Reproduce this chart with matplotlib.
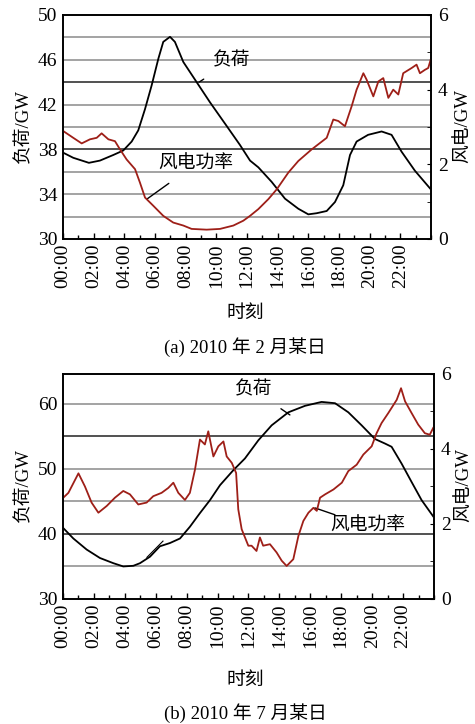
import matplotlib
matplotlib.use("Agg")
import matplotlib.pyplot as plt
from matplotlib.ticker import MultipleLocator

plt.rcParams['font.family'] = ['Liberation Serif', 'Noto Sans CJK SC']
plt.rcParams['axes.unicode_minus'] = False

# ---- 2010年2月某日 ----
feb_load_h = [0.02, 0.67, 1.69, 2.41, 3.28, 3.93, 4.48, 4.91, 5.35, 5.78, 6.22, 6.54, 6.98, 7.3,
              7.85, 8.72, 9.59, 10.67, 11.54, 12.2, 12.74, 13.61, 14.48, 15.35, 16.0, 16.54,
              17.2, 17.74, 18.28, 18.72, 19.15, 19.9, 20.78, 21.43, 22.08, 22.95, 23.95]
feb_load = [37.7, 37.25, 36.8, 37.0, 37.5, 37.9, 38.7, 39.7, 41.6, 43.7, 46.1, 47.6, 48.05, 47.6,
            45.8, 44.0, 42.2, 40.1, 38.4, 37.0, 36.4, 35.1, 33.6, 32.7, 32.2, 32.3,
            32.5, 33.3, 34.8, 37.5, 38.7, 39.3, 39.6, 39.3, 37.8, 36.1, 34.5]

feb_wind_h = [0.02, 0.67, 1.22, 1.76, 2.2, 2.52, 2.96, 3.39, 3.72, 4.15, 4.7, 5.02, 5.35, 5.89,
              6.54, 7.19, 7.85, 8.39, 9.37, 10.24, 11.11, 11.76, 12.2, 12.74, 13.4, 13.94,
              14.7, 15.35, 16.22, 17.2, 17.63, 17.96, 18.39, 18.83, 19.15, 19.59, 19.8, 20.24,
              20.57, 20.89, 21.22, 21.54, 21.87, 22.19, 22.74, 23.06, 23.28, 23.6, 23.82, 23.98]
feb_wind = [2.89, 2.71, 2.56, 2.67, 2.71, 2.83, 2.67, 2.62, 2.4, 2.13, 1.87, 1.51, 1.11, 0.89,
            0.62, 0.44, 0.36, 0.27, 0.25, 0.27, 0.36, 0.49, 0.62, 0.8, 1.07, 1.33,
            1.78, 2.09, 2.4, 2.71, 3.2, 3.16, 3.02, 3.56, 4.0, 4.44, 4.27, 3.82,
            4.22, 4.31, 3.78, 4.0, 3.87, 4.44, 4.58, 4.67, 4.44, 4.53, 4.58, 4.8]

# ---- 2010年7月某日 ----
jul_load_h = [0.02, 0.67, 1.53, 2.39, 3.26, 3.9, 4.55, 4.98, 5.63, 6.27, 6.92, 7.57, 8.21, 8.86,
              9.51, 10.16, 11.02, 11.77, 12.64, 13.5, 14.58, 15.66, 16.73, 17.6, 18.46, 19.32,
              20.18, 20.83, 21.26, 21.91, 22.55, 23.2, 23.95]
jul_load = [40.9, 39.3, 37.6, 36.3, 35.5, 35.0, 35.1, 35.5, 36.5, 38.1, 38.6, 39.3, 41.1, 43.2,
            45.2, 47.5, 49.8, 51.6, 54.4, 56.7, 58.7, 59.7, 60.3, 60.1, 58.7, 56.7,
            54.6, 53.9, 53.4, 50.8, 48.0, 45.2, 42.7]

jul_wind_h = [0.02, 0.35, 1.0, 1.42, 1.85, 2.29, 2.83, 3.36, 3.9, 4.33, 4.87, 5.41, 5.84, 6.38,
              6.81, 7.14, 7.46, 7.89, 8.21, 8.54, 8.86, 9.18, 9.4, 9.73, 10.05, 10.38, 10.59,
              10.92, 11.2, 11.34, 11.56, 11.99, 12.2, 12.52, 12.74, 12.95, 13.39, 13.82, 14.15,
              14.47, 14.9, 15.23, 15.55, 15.88, 16.2, 16.42, 16.63, 16.96, 17.5, 18.04, 18.46,
              19.0, 19.43, 19.97, 20.29, 20.61, 21.05, 21.59, 21.87, 22.13, 22.55, 22.98, 23.41,
              23.73, 23.95]
jul_wind = [2.7, 2.83, 3.35, 3.0, 2.57, 2.3, 2.48, 2.7, 2.88, 2.79, 2.52, 2.57, 2.74, 2.83,
            2.96, 3.1, 2.83, 2.64, 2.83, 3.45, 4.25, 4.12, 4.47, 3.8, 4.07, 4.2, 3.8,
            3.63, 3.36, 2.39, 1.86, 1.42, 1.42, 1.28, 1.64, 1.42, 1.46, 1.24, 1.02,
            0.88, 1.06, 1.68, 2.08, 2.3, 2.43, 2.35, 2.7, 2.79, 2.92, 3.1, 3.41,
            3.58, 3.85, 4.07, 4.42, 4.69, 4.96, 5.31, 5.62, 5.27, 4.96, 4.65, 4.42,
            4.38, 4.56]

hour_ticks = list(range(0, 24, 2))
hour_labels = ['%02d:00' % h for h in hour_ticks]

RED = '#9e1f18'
TICK_FS = 14
CN_FS = 13.5


def draw_panel(ax, load_h, load, wind_h, wind, ylim, yticks, grid_levels, grid_colors):
    for lv, c in zip(grid_levels, grid_colors):
        ax.axhline(lv, color=c, lw=1.1, zorder=1)
    ax.plot(load_h, load, color='black', lw=1.3, zorder=3)
    ax.set_xlim(0, 24)
    ax.set_ylim(*ylim)
    ax.set_yticks(yticks)
    ax.set_xticks(hour_ticks)
    ax.set_xticklabels(hour_labels, rotation=90, fontsize=TICK_FS)
    ax.xaxis.set_minor_locator(MultipleLocator(1))
    ax.tick_params(axis='x', which='major', direction='in', length=4, width=1, pad=3)
    ax.tick_params(axis='x', which='minor', direction='in', length=3, width=1)
    ax.tick_params(axis='y', length=0, labelsize=TICK_FS, pad=4)
    for s in ax.spines.values():
        s.set_linewidth(1.2)

    ax2 = ax.twinx()
    ax2.plot(wind_h, wind, color=RED, lw=1.3, zorder=2)
    ax2.set_ylim(0, 6)
    ax2.set_yticks([0, 2, 4, 6])
    ax2.yaxis.set_minor_locator(MultipleLocator(1))
    ax2.tick_params(axis='y', which='major', direction='in', length=3, labelsize=TICK_FS, pad=5)
    ax2.tick_params(axis='y', which='minor', direction='in', length=3)
    for s in ax2.spines.values():
        s.set_linewidth(1.2)
    return ax2


fig = plt.figure(figsize=(4.75, 7.24), dpi=100)

# 上图
ax_a = fig.add_axes([0.1326, 0.6699, 0.7747, 0.3094])
draw_panel(ax_a, feb_load_h, feb_load, feb_wind_h, feb_wind, (30, 50), range(30, 51, 4),
           [32, 34, 36, 38, 40, 42, 44, 46, 48],
           ['#8a8a8a', '#8a8a8a', '#8a8a8a', '#222222', '#8a8a8a', '#8a8a8a', '#222222',
            '#8a8a8a', '#8a8a8a'])
ax_a.annotate('负荷', xy=(8.87, 44.0), xytext=(11.02, 45.9), fontsize=CN_FS,
              ha='center', va='center', zorder=5,
              arrowprops=dict(arrowstyle='-', color='black', lw=1, shrinkA=9, shrinkB=0))
ax_a.annotate('风电功率', xy=(5.48, 33.57), xytext=(8.67, 36.7), fontsize=CN_FS,
              ha='center', va='center', zorder=5,
              arrowprops=dict(arrowstyle='-', color='black', lw=1, shrinkA=10, shrinkB=0))

# 下图
ax_b = fig.add_axes([0.1326, 0.1727, 0.781, 0.3108])
draw_panel(ax_b, jul_load_h, jul_load, jul_wind_h, jul_wind, (30, 64.6), [30, 40, 50, 60],
           [35, 40, 45, 50, 55, 60],
           ['#8a8a8a', '#222222', '#8a8a8a', '#8a8a8a', '#222222', '#8a8a8a'])
ax_b.annotate('负荷', xy=(14.68, 58.3), xytext=(12.36, 62.1), fontsize=CN_FS,
              ha='center', va='center', zorder=5,
              arrowprops=dict(arrowstyle='-', color='black', lw=1, shrinkA=9, shrinkB=0))
ax_b.annotate('风电功率', xy=(16.3, 44.0), xytext=(19.73, 41.2), fontsize=CN_FS,
              ha='center', va='center', zorder=5,
              arrowprops=dict(arrowstyle='-', color='black', lw=1, shrinkA=30, shrinkB=0))
ax_b.plot([5.43, 6.47], [36.4, 38.9], color='black', lw=0.8, zorder=4)

# 轴标题与图注
for yc, xr in [(126, 464), (485, 465)]:
    fig.text(24 / 475, 1 - yc / 724, '负荷/GW', rotation=90, fontsize=CN_FS,
             ha='center', va='center')
    fig.text(xr / 475, 1 - yc / 724, '风电/GW', rotation=90, fontsize=CN_FS,
             ha='center', va='center')

fig.text(245 / 475, 1 - 313 / 724, '时刻', fontsize=CN_FS, ha='center', va='center')
fig.text(245 / 475, 1 - 347 / 724, '(a) 2010 年 2 月某日', fontsize=CN_FS,
         ha='center', va='center')
fig.text(245 / 475, 1 - 680 / 724, '时刻', fontsize=CN_FS, ha='center', va='center')
fig.text(245 / 475, 1 - 713 / 724, '(b) 2010 年 7 月某日', fontsize=CN_FS,
         ha='center', va='center')

fig.savefig('out.png', dpi=100)
